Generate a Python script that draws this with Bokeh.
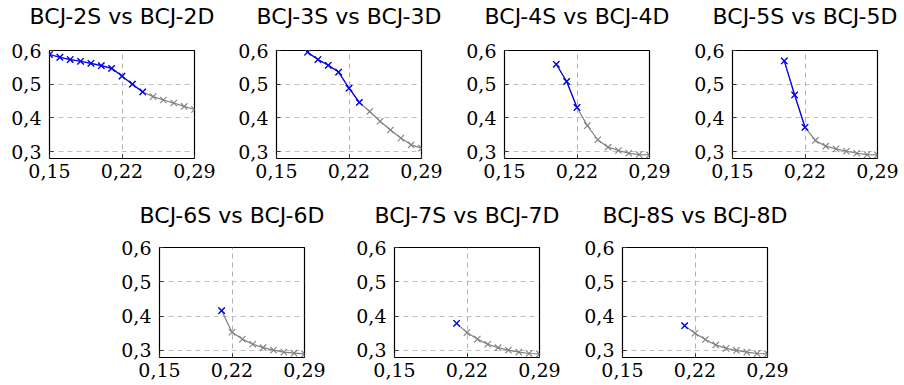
from bokeh.plotting import figure
from bokeh.layouts import row, column, Spacer
from bokeh.models import Range1d, FixedTicker, LinearAxis, CustomJSTickFormatter, Grid
from bokeh.embed import file_html
from bokeh.resources import INLINE

# ---- data ----
titles = ["BCJ-2S vs BCJ-2D", "BCJ-3S vs BCJ-3D", "BCJ-4S vs BCJ-4D", "BCJ-5S vs BCJ-5D",
          "BCJ-6S vs BCJ-6D", "BCJ-7S vs BCJ-7D", "BCJ-8S vs BCJ-8D"]

x_2 = [0.15, 0.16, 0.17, 0.18, 0.19, 0.20, 0.21, 0.22, 0.23, 0.24, 0.25, 0.26, 0.27, 0.28, 0.29]
y_2 = [0.588, 0.580, 0.573, 0.568, 0.562, 0.555, 0.547, 0.524, 0.500, 0.477, 0.463, 0.453, 0.444, 0.434, 0.425]
blue_2 = 10

x_3 = [0.18, 0.19, 0.20, 0.21, 0.22, 0.23, 0.24, 0.25, 0.26, 0.27, 0.28, 0.29]
y_3 = [0.595, 0.573, 0.556, 0.536, 0.488, 0.446, 0.419, 0.390, 0.364, 0.340, 0.320, 0.310]
blue_3 = 6

x_4 = [0.20, 0.21, 0.22, 0.23, 0.24, 0.25, 0.26, 0.27, 0.28, 0.29]
y_4 = [0.559, 0.508, 0.431, 0.377, 0.335, 0.313, 0.303, 0.295, 0.291, 0.290]
blue_4 = 3

x_5 = [0.20, 0.21, 0.22, 0.23, 0.24, 0.25, 0.26, 0.27, 0.28, 0.29]
y_5 = [0.569, 0.468, 0.372, 0.333, 0.316, 0.308, 0.301, 0.295, 0.291, 0.290]
blue_5 = 3

x_6 = [0.21, 0.22, 0.23, 0.24, 0.25, 0.26, 0.27, 0.28, 0.29]
y_6 = [0.416, 0.353, 0.333, 0.318, 0.308, 0.301, 0.295, 0.292, 0.290]
blue_6 = 1

x_7 = [0.21, 0.22, 0.23, 0.24, 0.25, 0.26, 0.27, 0.28, 0.29]
y_7 = [0.379, 0.352, 0.333, 0.318, 0.308, 0.301, 0.295, 0.291, 0.290]
blue_7 = 1

x_8 = [0.21, 0.22, 0.23, 0.24, 0.25, 0.26, 0.27, 0.28, 0.29]
y_8 = [0.372, 0.350, 0.332, 0.316, 0.306, 0.300, 0.295, 0.291, 0.290]
blue_8 = 1

x_ticks = [0.15, 0.22, 0.29]
y_ticks = [0.3, 0.4, 0.5, 0.6]
x_grid_lines = [0.22]
y_grid_lines = [0.3, 0.4, 0.5]

series = [(x_2, y_2, blue_2), (x_3, y_3, blue_3), (x_4, y_4, blue_4), (x_5, y_5, blue_5),
          (x_6, y_6, blue_6), (x_7, y_7, blue_7), (x_8, y_8, blue_8)]

BLUE = "#0000ff"
GRAY = "#808080"
TICK_FONT = "DejaVu Serif"
TITLE_FONT = "DejaVu Sans"


def style_axis(ax):
    ax.axis_line_color = None
    ax.major_tick_in = 4
    ax.major_tick_out = 0
    ax.major_tick_line_color = "#333333"
    ax.minor_tick_line_color = None
    ax.major_label_text_font = TICK_FONT
    ax.major_label_text_font_size = "19px"
    ax.major_label_text_color = "black"


def make_panel(i, width, height, left, right, top, bottom, title_gap):
    xs, ys, nb = series[i]
    p = figure(width=width, height=height, output_backend="svg", toolbar_location=None,
               x_range=Range1d(0.15, 0.29), y_range=Range1d(0.2794, 0.6),
               min_border_left=left, min_border_right=right,
               min_border_top=top, min_border_bottom=bottom,
               x_axis_type=None, y_axis_type=None)
    p.background_fill_color = "white"
    p.border_fill_color = "white"
    p.outline_line_color = "black"
    p.outline_line_width = 1.2

    xfmt = CustomJSTickFormatter(code="return tick.toFixed(2).replace('.', ',');")
    yfmt = CustomJSTickFormatter(code="return tick.toFixed(1).replace('.', ',');")

    ax = LinearAxis(ticker=FixedTicker(ticks=x_ticks), formatter=xfmt)
    style_axis(ax)
    ax.major_label_standoff = 5
    p.add_layout(ax, "below")

    ay = LinearAxis(ticker=FixedTicker(ticks=y_ticks), formatter=yfmt)
    style_axis(ay)
    ay.major_label_standoff = 8
    p.add_layout(ay, "left")

    # panel title, drawn as the label of a tick-less top axis (centred on the frame)
    at = LinearAxis(ticker=FixedTicker(ticks=[]), axis_label=titles[i])
    at.axis_line_color = None
    at.major_tick_line_color = None
    at.minor_tick_line_color = None
    at.major_tick_in = 0
    at.major_tick_out = 0
    at.minor_tick_out = 0
    at.major_label_standoff = 0
    at.axis_label_standoff = title_gap
    at.axis_label_text_font = TITLE_FONT
    at.axis_label_text_font_size = "22px"
    at.axis_label_text_font_style = "normal"
    at.axis_label_text_color = "black"
    p.add_layout(at, "above")

    gx = Grid(dimension=0, ticker=FixedTicker(ticks=x_grid_lines),
              grid_line_color="#b0b0b0", grid_line_dash="5 4", grid_line_width=1)
    gy = Grid(dimension=1, ticker=FixedTicker(ticks=y_grid_lines),
              grid_line_color="#c0c0c0", grid_line_dash="5 4", grid_line_width=1)
    p.add_layout(gx)
    p.add_layout(gy)

    p.line(xs, ys, line_color=GRAY, line_width=1.2)
    p.scatter(xs, ys, marker="x", size=9, line_color=GRAY, line_width=1.1)
    bx = xs[:nb]
    by = ys[:nb]
    if nb > 1:
        p.line(bx, by, line_color=BLUE, line_width=1.2)
    p.scatter(bx, by, marker="x", size=9, line_color=BLUE, line_width=1.3)
    return p


H1, T1, F1 = 195, 49, 109
B1 = H1 - T1 - F1
H2, T2, F2 = 190, 52, 110
B2 = H2 - T2 - F2
FW = 145
G1, G2 = 22, 20

p1 = make_panel(0, 227, H1, 49, 227 - 49 - FW, T1, B1, G1)
p2 = make_panel(1, 228, H1, 49, 228 - 49 - FW, T1, B1, G1)
p3 = make_panel(2, 228, H1, 49, 228 - 49 - FW, T1, B1, G1)
p4 = make_panel(3, 221, H1, 49, 221 - 49 - FW, T1, B1, G1)

p5 = make_panel(4, 230, H2, 49, 230 - 49 - FW, T2, B2, G2)
p6 = make_panel(5, 228, H2, 54, 228 - 54 - FW, T2, B2, G2)
p7 = make_panel(6, 228, H2, 54, 228 - 54 - FW, T2, B2, G2)

layout = column(row(p1, p2, p3, p4, spacing=0),
                row(Spacer(width=110, height=H2), p5, p6, p7, spacing=0),
                spacing=0)

open("out.html", "w").write(file_html(layout, INLINE))
